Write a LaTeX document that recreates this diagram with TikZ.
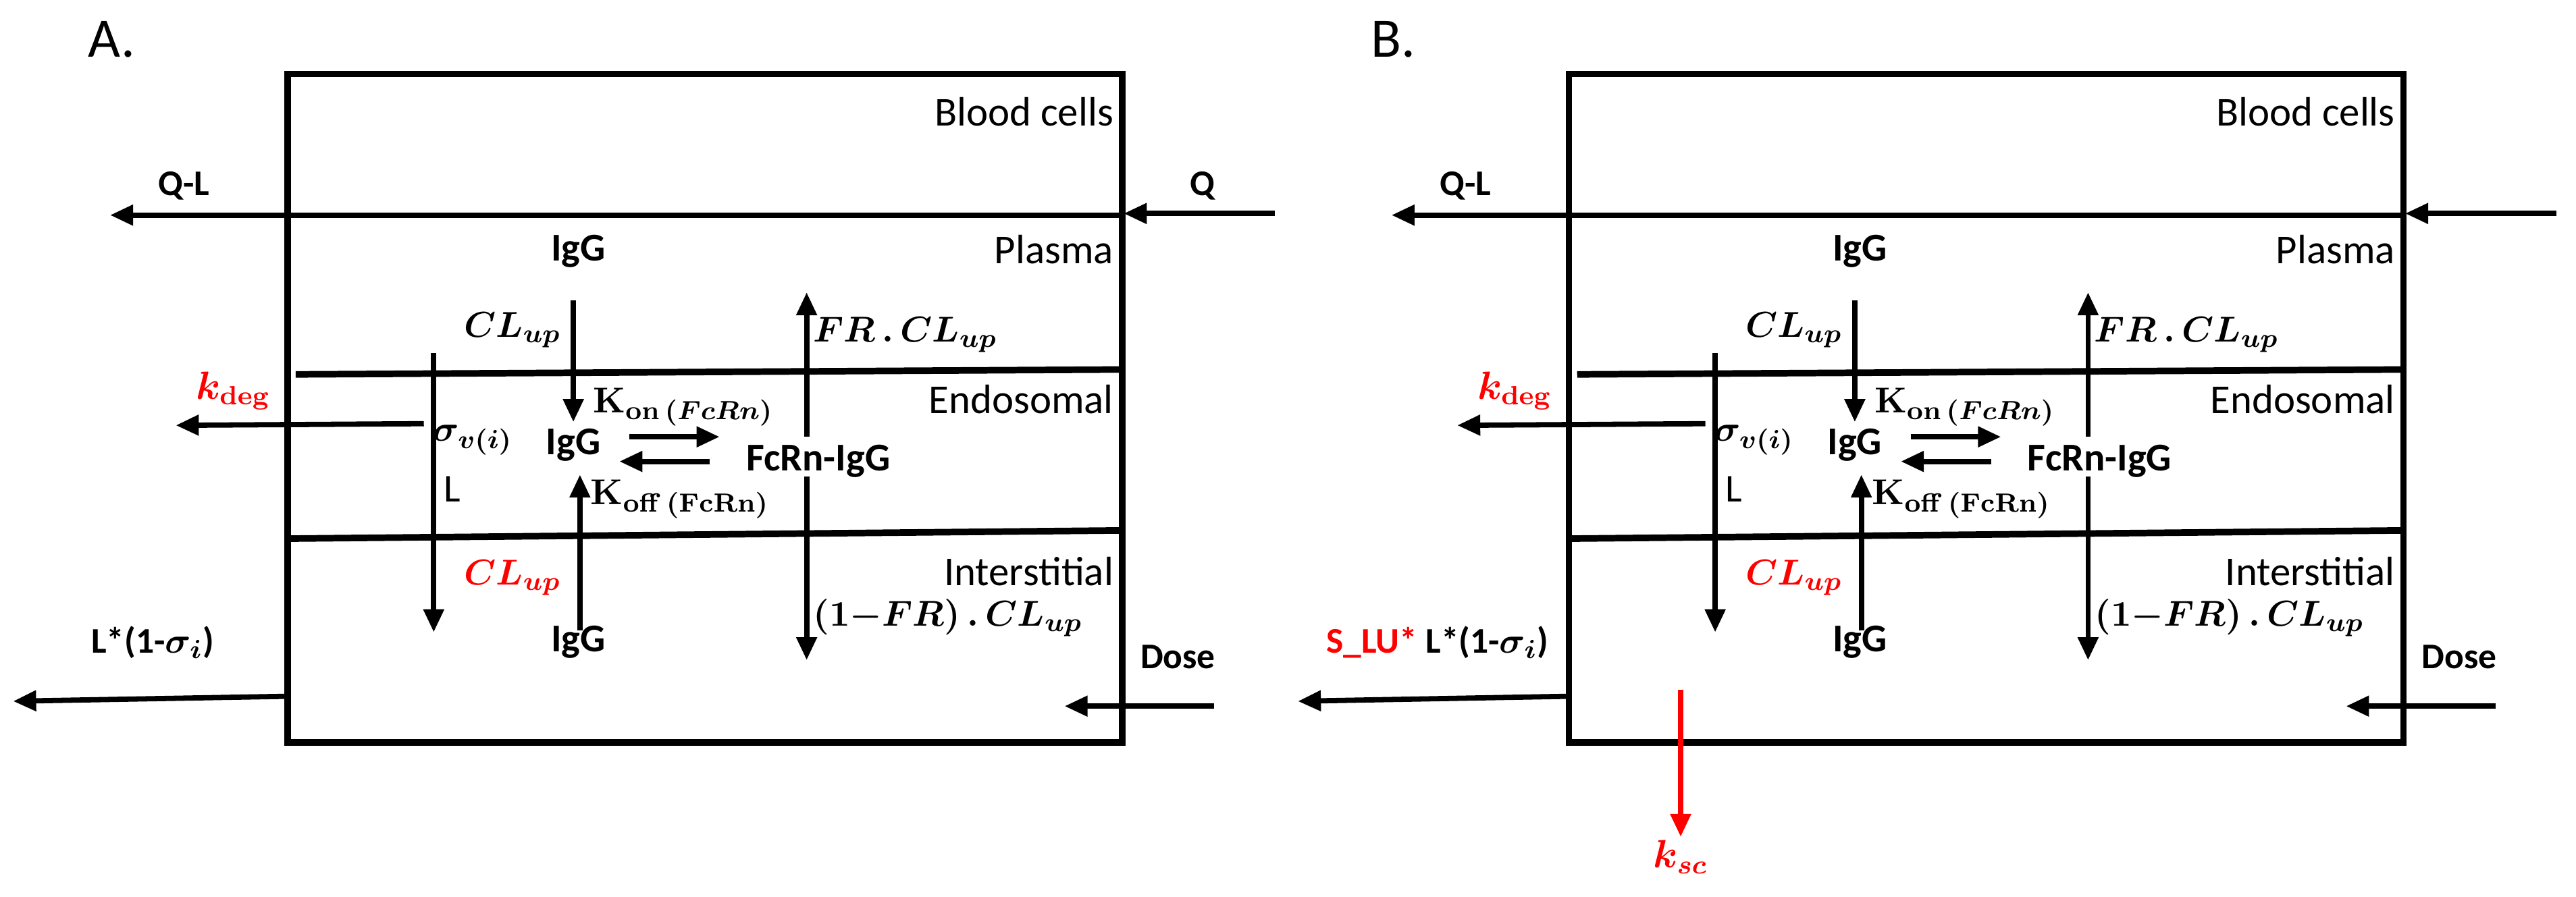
\documentclass[tikz,border=0pt]{standalone}
\usepackage{fontspec}
\setmainfont{Carlito}
\usepackage{amsmath}
\usetikzlibrary{arrows.meta}

\tikzset{every picture/.style={line width=0.75pt},
  flow/.style={line width=1.6pt,-{Triangle[length=7pt,width=6pt]}},
  wall/.style={line width=2pt},
  lbl/.style={inner sep=0.75pt,font=\fontsize{11}{13}\selectfont\boldmath},
  bf/.style={inner sep=0.75pt,font=\bfseries\fontsize{12}{14}\selectfont},
  cmp/.style={inner sep=0.75pt,anchor=north east,font=\fontsize{12.5}{14}\selectfont},
  red/.style={text=red,color=red}}

% one compartment panel, #1 = x offset, #2 = name prefix
\newcommand{\organ}[2]{%
  \begin{scope}[xshift=#1]
    %Shape: outer box
    \draw[wall] (175,45) rectangle (683,452);
    %Shape: membranes
    \draw[wall] (180,228) -- (683,225);
    \draw[wall] (175,328) -- (683,323);
    % Text Node
    \node[cmp] (#2bc) at (680,57) {Blood cells};
    \node[cmp] (#2pl) at (680,141) {Plasma};
    \node[cmp] (#2en) at (680,232) {Endosomal};
    \node[cmp] (#2in) at (680,337) {Interstitial};
    \node[bf] (#2ig1) at (352,153) {IgG};
    \node[bf] (#2ig2) at (349,271) {IgG};
    \node[bf] (#2ig3) at (352,391) {IgG};
    \node[bf] (#2fc) at (498,281) {FcRn-IgG};
    \node[lbl] (#2cl1) at (312,201) {$CL_{up}$};
    \node[lbl] (#2fr) at (551,204) {$FR\,.\,CL_{up}$};
    \node[lbl,red] (#2cl2) at (312,352) {$CL_{up}$};
    \node[lbl] (#2fr2) at (577,376) {$\mathbf{(1-}FR\mathbf{)}\,.\,CL_{up}$};
    \node[lbl] (#2sg) at (288,268) {$\sigma_{v(i)}$};
    \node[lbl,anchor=west,font=\fontsize{12}{14}\selectfont] (#2L) at (268,298) {L};
    \node[lbl] (#2kon) at (416,248) {$\mathbf{K}_{\mathbf{on}\,(FcRn)}$};
    \node[lbl] (#2koff) at (414,304) {$\mathbf{K}_{\mathbf{off}\,(\mathbf{FcRn})}$};
    \node[lbl,red,font=\fontsize{12}{14}\selectfont\boldmath] (#2kd) at (142,238) {$k_{\mathbf{deg}}$};
    \node[bf,font=\bfseries\fontsize{11}{13}\selectfont] (#2ql) at (112,113) {Q-L};
    \node[bf,font=\bfseries\fontsize{11}{13}\selectfont] (#2dose) at (717,400) {Dose};
    % Arrows
    \coordinate (#2a1) at (349,183); \coordinate (#2a2) at (349,257);
    \draw[flow] (#2a1) -- (#2a2);
    \coordinate (#2b1) at (491,266); \coordinate (#2b2) at (491,178);
    \draw[flow] (#2b1) -- (#2b2);
    \coordinate (#2c1) at (353,384); \coordinate (#2c2) at (353,289);
    \draw[flow] (#2c1) -- (#2c2);
    \coordinate (#2d1) at (491,290); \coordinate (#2d2) at (491,402);
    \draw[flow] (#2d1) -- (#2d2);
    \coordinate (#2e1) at (264,215); \coordinate (#2e2) at (264,385);
    \draw[flow] (#2e1) -- (#2e2);
    \coordinate (#2f1) at (383,266); \coordinate (#2f2) at (438,266);
    \draw[flow] (#2f1) -- (#2f2);
    \coordinate (#2g1) at (432,281); \coordinate (#2g2) at (377,281);
    \draw[flow] (#2g1) -- (#2g2);
    \coordinate (#2h1) at (258,258); \coordinate (#2h2) at (107,259);
    \draw[flow] (#2h1) -- (#2h2);
    \coordinate (#2i1) at (683,131); \coordinate (#2i2) at (67,131);
    \draw[flow] (#2i1) -- (#2i2);
    \coordinate (#2j1) at (776,130); \coordinate (#2j2) at (684,130);
    \draw[flow] (#2j1) -- (#2j2);
    \coordinate (#2k1) at (739,430); \coordinate (#2k2) at (648,430);
    \draw[flow] (#2k1) -- (#2k2);
  \end{scope}}

\begin{document}
\begin{tikzpicture}[x=0.5pt,y=0.5pt,yscale=-1,xscale=1]
    \useasboundingbox (0,0) rectangle (1568,546);

    \organ{0pt}{A}
    \organ{390pt}{B}

    % Text Node
    \node[cmp,anchor=center,font=\fontsize{17}{19}\selectfont] (pa) at (68,24) {A.};
    \node[cmp,anchor=center,font=\fontsize{17}{19}\selectfont] (pb) at (848,24) {B.};
    \node[bf,font=\bfseries\fontsize{11}{13}\selectfont] (q) at (732,113) {Q};
    \node[bf,font=\bfseries\fontsize{11}{13}\selectfont\boldmath] (lsA) at (93,391) {L*(1-$\sigma_i$)};
    \node[bf,font=\bfseries\fontsize{11}{13}\selectfont\boldmath] (lsB) at (875,391) {\textcolor{red}{S\_LU*} L*(1-$\sigma_i$)};
    \node[lbl,red,font=\fontsize{12}{14}\selectfont\boldmath] (ksc) at (1023,522) {$k_{sc}$};

    \coordinate (lA1) at (175,424); \coordinate (lA2) at (8,427);
    \draw[flow] (lA1) -- (lA2);
    \coordinate (lB1) at (955,424); \coordinate (lB2) at (790,427);
    \draw[flow] (lB1) -- (lB2);
    \coordinate (kB1) at (1023,420);
    \draw[flow,red] (kB1) -- (ksc.north);

\end{tikzpicture}
\end{document}
